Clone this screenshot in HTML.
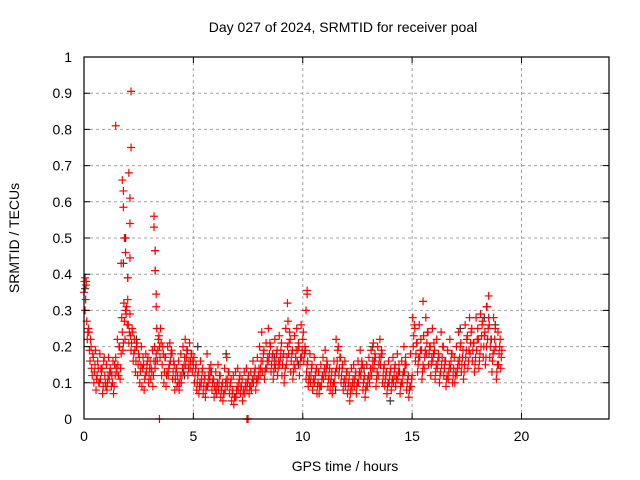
<!DOCTYPE html>
<html><head><meta charset="utf-8"><style>
body{margin:0;background:#fff;}
svg{display:block;font-family:"Liberation Sans",sans-serif;}
</style></head><body>
<svg id="c" width="640" height="480" xmlns="http://www.w3.org/2000/svg">
<rect width="640" height="480" fill="#fff"/>
<text x="343" y="32" font-size="14" text-anchor="middle">Day 027 of 2024, SRMTID for receiver poal</text>
<text x="19" y="238" font-size="14" text-anchor="middle" transform="rotate(-90 19 238)">SRMTID / TECUs</text>
<text x="345" y="471" font-size="14" text-anchor="middle">GPS time / hours</text>
<g id="grid"></g>
<g id="marks"></g>
<g id="axes"></g>
</svg>
<script>
const xTicks=[0,5,10,15,20];
const yTicks=[0,0.1,0.2,0.3,0.4,0.5,0.6,0.7,0.8,0.9,1];
const yTickLabels=["0","0.1","0.2","0.3","0.4","0.5","0.6","0.7","0.8","0.9","1"];
const sampleStart=0, sampleStep=0.1;
const redA=[0.35,0.38,0.25,0.22,0.18,0.15,0.12,0.10,0.13,0.16,0.09,
0.12,0.14,0.10,0.15,0.13,0.20,0.18,0.21,0.30,0.33,
0.29,0.25,0.22,0.20,0.18,0.15,0.17,0.12,0.16,0.14,
0.13,0.16,0.18,0.22,0.25,0.20,0.17,0.13,0.15,0.19,
0.16,0.13,0.10,0.12,0.14,0.17,0.19,0.16,0.18,0.15,
0.14,0.12,0.10,0.13,0.11,0.09,0.12,0.15,0.11,0.08,
0.10,0.12,0.09,0.07,0.11,0.13,0.10,0.08,0.06,0.09,
0.11,0.09,0.08,0.10,0.11,0.09,0.11,0.13,0.10,0.14,
0.16,0.18,0.14,0.17,0.21,0.17,0.15,0.18,0.16,0.19,
0.17,0.14,0.20,0.24,0.18,0.15,0.19,0.21,0.17,0.22,
0.20,0.15,0.12,0.14,0.11,0.13,0.10,0.09,0.12,0.14,
0.16,0.12,0.11,0.10,0.13,0.19,0.17,0.14,0.11,0.13,
0.10,0.09,0.11,0.12,0.10,0.13,0.16,0.11,0.09,0.12,
0.14,0.16,0.18,0.13,0.17,0.19,0.14,0.12,0.10,0.13,
0.11,0.14,0.12,0.15,0.10,0.13,0.17,0.11,0.09,0.12,
0.26,0.21,0.17,0.22,0.15,0.19,0.24,0.20,0.17,0.21,
0.15,0.18,0.13,0.20,0.16,0.12,0.15,0.18,0.14,0.13,
0.16,0.20,0.17,0.15,0.22,0.19,0.24,0.21,0.17,0.25,
0.18,0.26,0.23,0.20,0.28,0.22,0.18,0.25,0.15,0.20,0.19];
const redB=[0.30,0.22,0.19,0.14,0.10,0.08,0.14,0.11,0.07,0.12,
0.08,0.11,0.09,0.07,0.17,0.15,0.11,0.24,0.27,0.31,
0.21,0.19,0.16,0.13,0.12,0.10,0.09,0.08,0.13,0.10,
0.11,0.09,0.14,0.16,0.20,0.12,0.10,0.09,0.12,0.16,
0.11,0.08,0.09,0.08,0.10,0.13,0.15,0.12,0.14,0.13,
0.10,0.08,0.07,0.09,0.07,0.06,0.09,0.11,0.08,0.06,
0.07,0.08,0.06,0.05,0.08,0.09,0.07,0.05,0.04,0.06,
0.08,0.07,0.05,0.07,0.08,0.07,0.08,0.10,0.08,0.11,
0.12,0.13,0.11,0.14,0.16,0.13,0.11,0.14,0.12,0.15,
0.12,0.10,0.15,0.18,0.13,0.11,0.14,0.16,0.12,0.17,
0.16,0.11,0.09,0.10,0.08,0.10,0.07,0.07,0.09,0.11,
0.12,0.09,0.08,0.07,0.10,0.14,0.12,0.10,0.08,0.09,
0.07,0.05,0.08,0.09,0.07,0.10,0.12,0.08,0.06,0.09,
0.10,0.12,0.14,0.09,0.12,0.15,0.10,0.09,0.07,0.10,
0.08,0.10,0.09,0.11,0.07,0.10,0.13,0.08,0.06,0.09,
0.20,0.16,0.13,0.17,0.11,0.14,0.18,0.15,0.12,0.16,
0.11,0.14,0.10,0.15,0.12,0.09,0.11,0.14,0.10,0.10,
0.12,0.15,0.13,0.11,0.17,0.14,0.18,0.16,0.13,0.19,
0.14,0.20,0.17,0.15,0.22,0.17,0.13,0.19,0.11,0.15,0.14];
const redC=[0.38,0.27,0.24,0.20,0.17,0.19,0.16,0.18,0.14,0.17,
0.15,0.17,0.13,0.16,0.12,0.22,0.20,0.28,0.32,0.29,
0.26,0.23,0.24,0.19,0.21,0.17,0.20,0.15,0.18,0.17,
0.16,0.19,0.20,0.25,0.23,0.21,0.18,0.17,0.20,0.21,
0.18,0.15,0.14,0.16,0.18,0.20,0.22,0.19,0.21,0.18,
0.17,0.15,0.13,0.16,0.14,0.12,0.18,0.14,0.13,0.11,
0.13,0.15,0.12,0.10,0.14,0.17,0.13,0.11,0.12,0.13,
0.14,0.12,0.11,0.13,0.14,0.12,0.13,0.16,0.14,0.17,
0.20,0.24,0.19,0.21,0.25,0.20,0.18,0.22,0.19,0.23,
0.21,0.18,0.25,0.27,0.22,0.19,0.23,0.25,0.20,0.26,
0.24,0.19,0.16,0.18,0.15,0.17,0.14,0.13,0.15,0.17,
0.19,0.15,0.14,0.13,0.16,0.22,0.20,0.17,0.15,0.16,
0.13,0.12,0.14,0.15,0.13,0.16,0.19,0.15,0.12,0.15,
0.17,0.19,0.21,0.17,0.20,0.22,0.18,0.15,0.13,0.16,
0.14,0.17,0.15,0.18,0.13,0.16,0.20,0.15,0.12,0.18,
0.28,0.25,0.21,0.26,0.19,0.23,0.28,0.24,0.20,0.25,
0.19,0.22,0.17,0.24,0.20,0.16,0.19,0.22,0.18,0.17,
0.20,0.24,0.21,0.19,0.26,0.23,0.28,0.25,0.21,0.28,
0.22,0.29,0.27,0.24,0.31,0.26,0.22,0.28,0.20,0.24,0.22];
const redD=[0.33,0.24,0.16,0.12,0.13,0.11,0.10,0.14,0.09,0.10,
0.10,0.13,0.12,0.09,0.14,0.12,0.14,0.19,0.22,0.26,
0.24,0.21,0.18,0.16,0.15,0.13,0.14,0.11,0.15,0.12,
0.14,0.12,0.16,0.19,0.17,0.15,0.13,0.12,0.14,0.18,
0.13,0.11,0.12,0.10,0.12,0.15,0.17,0.14,0.16,0.16,
0.12,0.10,0.09,0.11,0.09,0.08,0.10,0.13,0.10,0.09,
0.09,0.10,0.08,0.07,0.10,0.11,0.09,0.07,0.06,0.08,
0.10,0.09,0.07,0.09,0.10,0.09,0.10,0.12,0.11,0.12,
0.14,0.16,0.13,0.16,0.18,0.15,0.13,0.16,0.14,0.17,
0.15,0.12,0.17,0.21,0.16,0.13,0.17,0.19,0.15,0.19,
0.18,0.13,0.11,0.12,0.10,0.12,0.09,0.09,0.11,0.13,
0.14,0.11,0.10,0.09,0.12,0.16,0.14,0.12,0.10,0.11,
0.09,0.07,0.10,0.11,0.09,0.12,0.14,0.10,0.08,0.11,
0.12,0.14,0.16,0.11,0.15,0.17,0.12,0.11,0.09,0.12,
0.10,0.12,0.11,0.13,0.09,0.12,0.15,0.10,0.08,0.11,
0.23,0.18,0.15,0.19,0.13,0.17,0.21,0.18,0.15,0.18,
0.13,0.16,0.12,0.17,0.14,0.11,0.13,0.16,0.12,0.12,
0.14,0.17,0.15,0.13,0.19,0.16,0.21,0.19,0.15,0.22,
0.16,0.23,0.20,0.17,0.25,0.20,0.16,0.22,0.13,0.18,0.17];
const spikeX=[1.45,1.7,1.75,1.8,1.8,1.85,1.9,2.0,2.05,2.1,2.1,2.15,2.15,2.1,3.2,3.2,3.25,3.25,3.3,3.3,0.05,0.1,9.3,10.2,10.2,10.15,15.5,18.5,18.4,3.45,7.5,7.45];
const spikeY=[0.81,0.43,0.66,0.63,0.585,0.50,0.46,0.39,0.68,0.54,0.61,0.75,0.905,0.445,0.56,0.53,0.465,0.41,0.345,0.31,0.39,0.37,0.32,0.355,0.345,0.30,0.325,0.34,0.31,0,0,0];
const blackX=[0.05,1.8,1.9,2.0,3.25,3.25,5.2,6.5,13.2,14.0,18.3,18.8,17.2,16.0,9.8,11.5,2.4,4.6,8.7,12.8];
const blackY=[0.36,0.43,0.50,0.39,0.465,0.41,0.20,0.18,0.20,0.05,0.28,0.26,0.25,0.18,0.15,0.08,0.22,0.12,0.17,0.14];

const X0=84,X1=609,Y0=419,Y1=57,XMAX=24;
const sx=v=>X0+v/XMAX*(X1-X0);
const sy=v=>Y0-v*(Y0-Y1);
const NS="http://www.w3.org/2000/svg";
function mk(tag,attrs,parent){const e=document.createElementNS(NS,tag);for(const k in attrs)e.setAttribute(k,attrs[k]);parent.appendChild(e);return e;}
const grid=document.getElementById('grid'),axes=document.getElementById('axes'),marks=document.getElementById('marks');
xTicks.forEach(t=>{
  if(t>0){const g=mk('line',{x1:sx(t),x2:sx(t),y1:Y0,y2:Y1,stroke:'#a0a0a0','stroke-dasharray':'3,3'},grid);
  
  }
  const tk=mk('path',{d:`M${sx(t)},${Y0}v-6M${sx(t)},${Y1}v6`,stroke:'#000'},axes);
  
  
  const l=mk('text',{x:sx(t),y:Y0+22,'font-size':14,'text-anchor':'middle'},axes);l.textContent=t;
  
  
});
yTicks.forEach((t,i)=>{
  if(t>0&&t<1){const g=mk('line',{x1:X0,x2:X1,y1:sy(t),y2:sy(t),stroke:'#a0a0a0','stroke-dasharray':'3,3'},grid);
  
  }
  const tk=mk('path',{d:`M${X0},${sy(t)}h6M${X1},${sy(t)}h-6`,stroke:'#000'},axes);
  
  
  const l=mk('text',{x:X0-12,y:sy(t)+5,'font-size':14,'text-anchor':'end'},axes);l.textContent=yTickLabels[i];
  
  
});
const box=mk('rect',{x:X0,y:Y1,width:X1-X0,height:Y0-Y1,fill:'none',stroke:'#000','stroke-width':1.2},axes);


function cross(x,y,col,name){
  const p=mk('path',{d:`M${sx(x)-4},${sy(y)}h8M${sx(x)},${sy(y)-4}v8`,stroke:col,'stroke-width':1.2},marks);
  
  
}
blackX.forEach((x,i)=>cross(x,blackY[i],'#333','black-point'));
redA.forEach((v,i)=>cross(sampleStart+i*sampleStep,v,'#f00','red-point'));
redB.forEach((v,i)=>cross(sampleStart+i*sampleStep+0.05,v,'#f00','red-point'));
redC.forEach((v,i)=>cross(sampleStart+i*sampleStep+0.025,v,'#f00','red-point'));
redD.forEach((v,i)=>cross(sampleStart+i*sampleStep+0.075,v,'#f00','red-point'));
spikeX.forEach((x,i)=>cross(x,spikeY[i],'#f00','red-spike-point'));
</script>
</body></html>
